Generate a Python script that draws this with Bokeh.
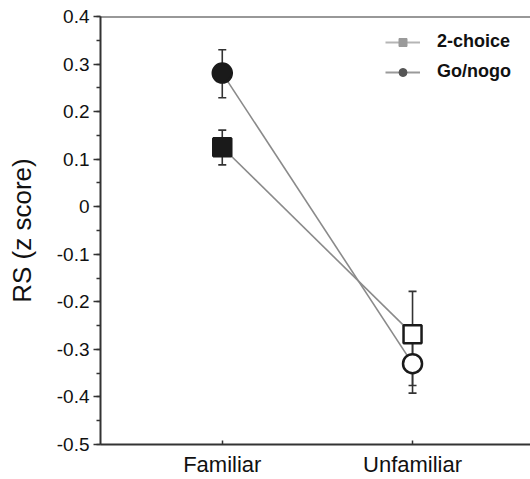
from bokeh.plotting import figure
from bokeh.models import (ColumnDataSource, Range1d, FixedTicker, SingleIntervalTicker,
                          CustomJSTickFormatter, Whisker, TeeHead, Legend, LegendItem, Span)
from bokeh.embed import file_html
from bokeh.resources import INLINE

# ---- data ----
conditions = ["Familiar", "Unfamiliar"]
choice2_mean = [0.125, -0.268]
choice2_lower = [0.088, -0.376]
choice2_upper = [0.161, -0.178]
gonogo_mean = [0.281, -0.330]
gonogo_lower = [0.229, -0.392]
gonogo_upper = [0.330, -0.275]
series_labels = ["2-choice", "Go/nogo"]
y_label = "RS (z score)"
y_min, y_max = -0.5, 0.4

xpos = list(range(len(conditions)))
FONT = "Liberation Sans"

p = figure(width=530, height=479, output_backend="svg", toolbar_location=None,
           x_range=Range1d(-0.64, 1.62), y_range=Range1d(y_min, y_max),
           min_border_top=16, min_border_left=100, min_border_right=0, min_border_bottom=33)
p.grid.visible = False
p.outline_line_color = None
p.background_fill_color = "white"
p.border_fill_color = "white"

# top frame line
p.add_layout(Span(location=y_max, dimension="width", line_color="#333333", line_width=2))

# axes
xa = p.xaxis[0]
xa.ticker = FixedTicker(ticks=xpos)
xa.major_label_overrides = {i: c for i, c in zip(xpos, conditions)}
xa.major_tick_in = 4
xa.major_tick_out = 0
xa.minor_tick_line_color = None
xa.axis_line_width = 2
xa.axis_line_color = "#333333"
xa.major_tick_line_color = "#333333"
xa.major_tick_line_width = 1.5
xa.major_label_text_font = FONT
xa.major_label_text_font_size = "22px"
xa.major_label_text_color = "#111111"
xa.major_label_standoff = 7

ya = p.yaxis[0]
ya.ticker = SingleIntervalTicker(interval=0.1, num_minor_ticks=2)
ya.formatter = CustomJSTickFormatter(code="return String(Math.round(tick*10)/10);")
ya.major_tick_out = 7
ya.major_tick_in = 0
ya.minor_tick_out = 4
ya.minor_tick_in = 0
ya.axis_line_width = 2
ya.axis_line_color = "#333333"
ya.major_tick_line_color = "#333333"
ya.minor_tick_line_color = "#333333"
ya.major_tick_line_width = 1.5
ya.minor_tick_line_width = 1.5
ya.major_label_text_font = FONT
ya.major_label_text_font_size = "19px"
ya.major_label_text_color = "#111111"
ya.major_label_standoff = 4
ya.axis_label = y_label
ya.axis_label_text_font = FONT
ya.axis_label_text_font_size = "26px"
ya.axis_label_text_font_style = "normal"
ya.axis_label_text_color = "#111111"
ya.axis_label_standoff = 17

src2 = ColumnDataSource(dict(x=xpos, y=choice2_mean, lo=choice2_lower, hi=choice2_upper,
                             fill=["#1a1a1a", "white"]))
srcg = ColumnDataSource(dict(x=xpos, y=gonogo_mean, lo=gonogo_lower, hi=gonogo_upper,
                             fill=["#1a1a1a", "white"]))

# connecting lines
l2 = p.line("x", "y", source=src2, line_color="#8a8a8a", line_width=1.6)
lg = p.line("x", "y", source=srcg, line_color="#8a8a8a", line_width=1.6)

# error bars
for s in (src2, srcg):
    w = Whisker(base="x", upper="hi", lower="lo", source=s,
                line_color="#333333", line_width=1.6,
                upper_head=TeeHead(size=8, line_color="#333333", line_width=1.6),
                lower_head=TeeHead(size=8, line_color="#333333", line_width=1.6))
    p.add_layout(w)

# markers
p.scatter("x", "y", source=src2, marker="square", size=18, fill_color="fill",
          line_color="#1a1a1a", line_width=2.5)
p.scatter("x", "y", source=srcg, marker="circle", size=19, fill_color="fill",
          line_color="#1a1a1a", line_width=2.5)

# legend-only proxy glyphs (grey); NaN y so nothing is drawn in the plot
proxy = dict(x=xpos[:1], y=[float("nan")])
d2 = p.scatter("x", "y", source=ColumnDataSource(proxy), marker="square", size=13,
               fill_color="#9a9a9a", line_color="#9a9a9a")
dg = p.scatter("x", "y", source=ColumnDataSource(proxy), marker="circle", size=13,
               fill_color="#555555", line_color="#555555")
leg_line2 = p.line("x", "y", source=ColumnDataSource(proxy), line_color="#b5b5b5", line_width=2.2)
leg_lineg = p.line("x", "y", source=ColumnDataSource(proxy), line_color="#9a9a9a", line_width=2.2)

legend = Legend(items=[LegendItem(label=series_labels[0], renderers=[leg_line2, d2]),
                       LegendItem(label=series_labels[1], renderers=[leg_lineg, dg])],
                location=(285, 362), margin=0, padding=5, spacing=9,
                glyph_width=35, glyph_height=20, label_standoff=17, label_height=20,
                label_text_font=FONT, label_text_font_size="18px",
                label_text_font_style="bold", label_text_color="#111111",
                border_line_color=None, background_fill_alpha=0)
p.add_layout(legend)

open("out.html", "w").write(file_html(p, INLINE))
